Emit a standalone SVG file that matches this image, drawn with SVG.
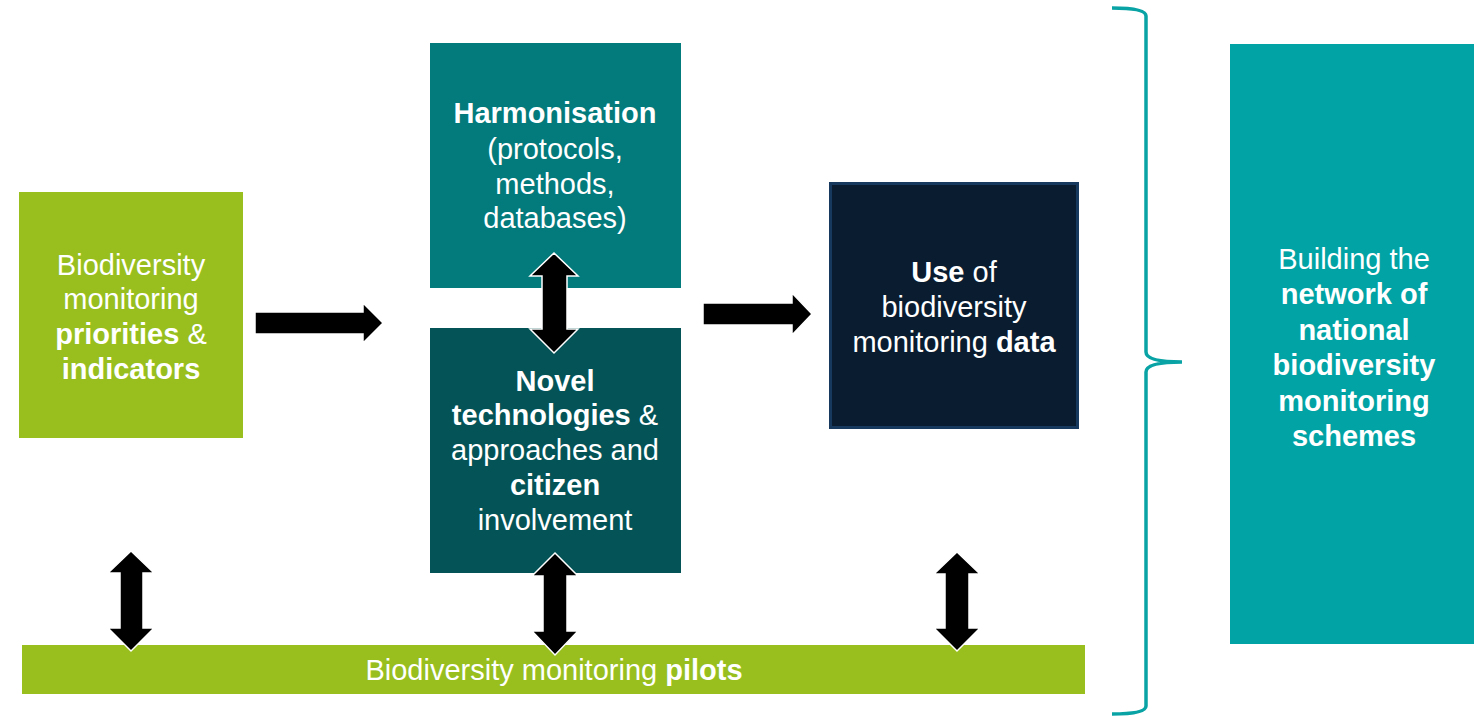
<svg xmlns="http://www.w3.org/2000/svg" width="1474" height="717" viewBox="0 0 1474 717">
<defs>
<style>
text{font-family:"Liberation Sans",Arial,sans-serif;font-size:29px;fill:#fff;text-anchor:middle}
.b{font-weight:bold}
.arr{fill:#000;stroke:#fff;stroke-width:1.5;stroke-linejoin:miter}
</style>
</defs>
<rect width="1474" height="717" fill="#fff"/>
<g id="priorities">
<rect x="19" y="192" width="224" height="246" fill="#98BF1E"/>
<text x="131" y="275">Biodiversity</text>
<text x="131" y="309">monitoring</text>
<text x="131" y="344"><tspan class="b">priorities</tspan> &amp;</text>
<text x="131" y="379" class="b">indicators</text>
</g>
<g id="harmonisation">
<rect x="430" y="43" width="251" height="245" fill="#037A7C"/>
<text x="555" y="123" class="b">Harmonisation</text>
<text x="555" y="159">(protocols,</text>
<text x="555" y="194">methods,</text>
<text x="555" y="228">databases)</text>
</g>
<g id="novel">
<rect x="430" y="328" width="251" height="245" fill="#045457"/>
<text x="555" y="391" class="b">Novel</text>
<text x="555" y="425"><tspan class="b">technologies</tspan> &amp;</text>
<text x="555" y="460">approaches and</text>
<text x="555" y="495" class="b">citizen</text>
<text x="555" y="530">involvement</text>
</g>
<g id="use">
<rect x="830.5" y="183.5" width="247" height="244" fill="#0A1D30" stroke="#17395E" stroke-width="3"/>
<text x="954" y="282"><tspan class="b">Use</tspan> of</text>
<text x="954" y="317">biodiversity</text>
<text x="954" y="352">monitoring <tspan class="b">data</tspan></text>
</g>
<g id="pilots">
<rect x="22" y="645" width="1063" height="49" fill="#98BF1E"/>
<text x="554" y="680">Biodiversity monitoring <tspan class="b">pilots</tspan></text>
</g>
<g id="network">
<rect x="1230" y="44" width="244" height="600" fill="#02A3A5"/>
<text x="1354" y="269">Building the</text>
<text x="1354" y="304" class="b">network of</text>
<text x="1354" y="340" class="b">national</text>
<text x="1354" y="375" class="b">biodiversity</text>
<text x="1354" y="411" class="b">monitoring</text>
<text x="1354" y="446" class="b">schemes</text>
</g>
<g id="connectors">
<path class="arr" d="M255,312 L363,312 L363,303 L383,323 L363,343 L363,334 L255,334 Z"/>
<path class="arr" d="M703,303 L792,303 L792,293 L812,314 L792,335 L792,325 L703,325 Z"/>
<path class="arr" d="M554,253 L578,276 L567,276 L567,329 L578,329 L554,353 L530,329 L542,329 L542,276 L530,276 Z"/>
<path class="arr" d="M131,551 L154,573 L143,573 L143,628 L154,628 L131,651 L108,628 L120,628 L120,573 L108,573 Z"/>
<path class="arr" d="M555,553 L578,576 L567,576 L567,631 L578,631 L555,655 L532,631 L543,631 L543,576 L532,576 Z"/>
<path class="arr" d="M957,552 L980,574 L969,574 L969,628 L980,628 L957,651 L934,628 L945,628 L945,574 L934,574 Z"/>
<path d="M1112,8 Q1146,8 1146,16 L1146,352 Q1146,362 1182,362 Q1146,362 1146,372 L1146,706 Q1146,714 1112,714" fill="none" stroke="#0AA3A5" stroke-width="3.5"/>
</g>
</svg>
